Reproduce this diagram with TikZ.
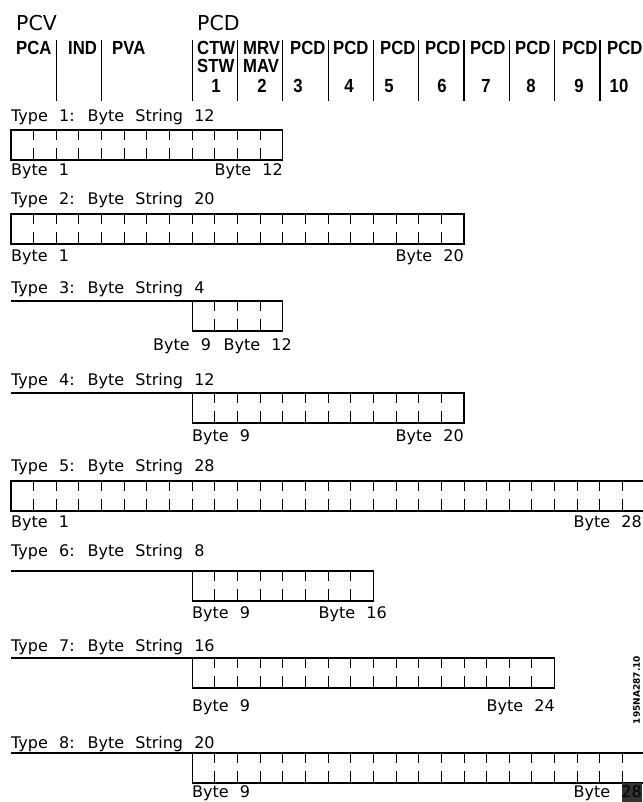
\documentclass[tikz,border=0pt]{standalone}
\usepackage{fontspec}
\setmainfont{DejaVu Sans}
\newfontfamily\typefont[WordSpace=2.2]{DejaVu Sans}
\newfontfamily\headfont[FakeStretch=0.88]{Liberation Sans}
\usetikzlibrary{positioning}

\begin{document}
\begin{tikzpicture}[x=1pt, y=-1pt,
	bytebox/.style={draw, line width=1.2pt, inner sep=0pt, outer sep=0pt, anchor=north west, minimum height=30pt},
	tick/.style={line width=1pt},
	sep/.style={line width=1.2pt},
	txt/.style={inner sep=0pt, anchor=base west, font=\typefont\fontsize{16}{18}\selectfont},
	head/.style={inner sep=0pt, anchor=base west, font=\headfont\bfseries\fontsize{19}{21}\selectfont},
	big/.style={inner sep=0pt, anchor=base west, font=\fontsize{20.5}{22}\selectfont}]
	\useasboundingbox (0,0) rectangle (642,802);

	% header
	\node[big] (pcv) at (16,31) {PCV};
	\node[big] (pcd) at (197,31) {PCD};
	\node[head] (pca) at (16,55) {PCA};
	\node[head] (ind) at (68,55) {IND};
	\node[head] (pva) at (112,55) {PVA};
	\node[head] (ctw) at (197,55) {CTW};
	\node[head] (stw) at (197,73) {STW};
	\node[head] (mrv) at (243,55) {MRV};
	\node[head] (mav) at (243,73) {MAV};
	\foreach \c/\x in {3/290,4/333,5/380,6/425,7/470,8/515,9/562,10/607}
		\node[head] (pcd\c) at (\x,55) {PCD};
	\foreach \c/\x in {1/216,2/262,3/298,4/349,5/389,6/442,7/486,8/531,9/579,10/619}
		\node[head, anchor=base] (num\c) at (\x,93) {\c};
	\foreach \b in {2,4,8,10,12,14,16,18,20,22,24,26}
		\draw[sep] (11+\b*22.65,40) -- (11+\b*22.65,101);

	% byte strings
	\foreach \k/\first/\last/\top in {1/1/12/130, 2/1/20/214, 3/9/12/301, 4/9/20/393, 5/1/28/481, 6/9/16/571, 7/9/24/658, 8/9/28/753} {
		\pgfmathsetmacro\xa{11+(\first-1)*22.65}
		\pgfmathsetmacro\boxw{(\last-\first+1)*22.65}
		\pgfmathtruncatemacro\lastb{\last-1}
		\node[bytebox, minimum width=\boxw pt] (box\k) at (\xa,\top) {};
		\foreach \i in {\first,...,\lastb} {
			\draw[tick] (11+\i*22.65,\top) -- ++(0,10);
			\draw[tick] (11+\i*22.65,\top+30) -- ++(0,-12);
		}
		\ifnum\first>1
			\coordinate (start\k) at (11,\top);
			\draw[sep] (start\k) -- (box\k.north west);
		\fi
	}

	\node[txt] (type1) at (11,122) {Type 1: Byte String 12};
	\node[txt] (from1) at (11,176) {Byte 1};
	\node[txt, anchor=base east] (to1) at (283,176) {Byte 12};

	\node[txt] (type2) at (11,205) {Type 2: Byte String 20};
	\node[txt] (from2) at (11,261) {Byte 1};
	\node[txt, anchor=base east] (to2) at (464,261) {Byte 20};

	\node[txt] (type3) at (11,293) {Type 3: Byte String 4};
	\node[txt] (from3) at (153,350) {Byte 9};
	\node[txt, anchor=base east] (to3) at (292,350) {Byte 12};

	\node[txt] (type4) at (11,385) {Type 4: Byte String 12};
	\node[txt] (from4) at (192,441) {Byte 9};
	\node[txt, anchor=base east] (to4) at (464,441) {Byte 20};

	\node[txt] (type5) at (11,471) {Type 5: Byte String 28};
	\node[txt] (from5) at (11,527) {Byte 1};
	\node[txt, anchor=base east] (to5) at (642,527) {Byte 28};

	\node[txt] (type6) at (11,556) {Type 6: Byte String 8};
	\node[txt] (from6) at (192,618) {Byte 9};
	\node[txt, anchor=base east] (to6) at (387,618) {Byte 16};

	\node[txt] (type7) at (11,651) {Type 7: Byte String 16};
	\node[txt] (from7) at (192,711) {Byte 9};
	\node[txt, anchor=base east] (to7) at (555,711) {Byte 24};

	\node[txt] (type8) at (11,748) {Type 8: Byte String 20};
	\fill[black!80] (622,783) rectangle (642,802);
	\node[txt] (from8) at (192,797) {Byte 9};
	\node[txt, anchor=base east] (to8) at (642,797) {Byte 28};

	\node[rotate=90, inner sep=0pt, font=\bfseries\fontsize{9}{10}\selectfont] (docno) at (636.5,690) {195NA287.10};
\end{tikzpicture}
\end{document}
